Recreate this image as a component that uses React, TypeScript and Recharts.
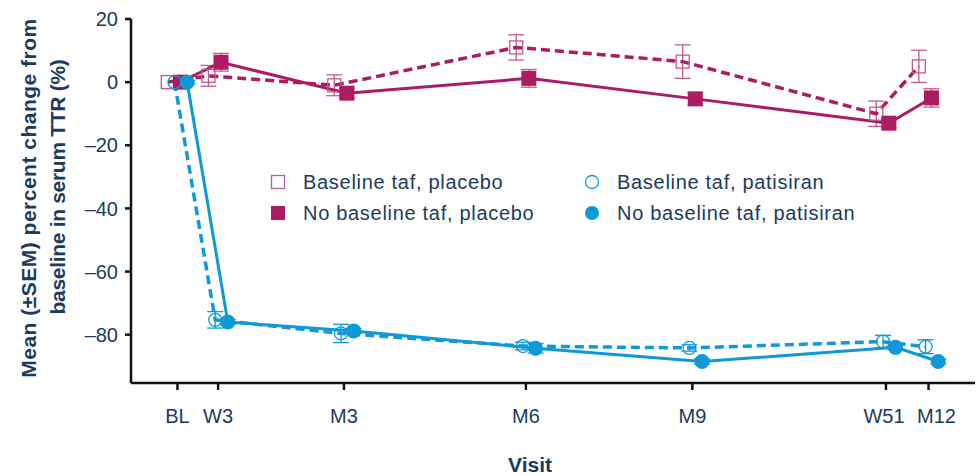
import { LineChart, Line, XAxis, YAxis, ErrorBar } from 'recharts'

// visit labels and study day used to place them on the x axis
const visits = ['BL', 'W3', 'M3', 'M6', 'M9', 'W51', 'M12']
const visitDays = [0, 21, 86, 180, 266, 366, 388]
const yTicks = [20, 0, -20, -40, -60, -80]

const tafPlacebo = [0, 2, -1, 11, 6.5, -10, 5]
const tafPlaceboSem = [0, 3.3, 3.3, 4, 5.3, 4, 5.1]
const noTafPlacebo = [0, 6.3, -3.5, 1.2, -5.3, -13, -5]
const noTafPlaceboSem = [0, 2.8, 1.5, 2.8, 2, 1.5, 2.9]
const tafPatisiran = [0, -75.3, -79.6, -83.6, -84.2, -82.2, -83.8]
const tafPatisiranSem = [0, 2.6, 2.9, 1.2, 1, 2, 2.2]
const noTafPatisiran = [0, -76, -78.8, -84.3, -88.5, -84, -88.5]
const noTafPatisiranSem = [0.5, 0.8, 0.8, 1.5, 0.8, 0.8, 0.8]

const MAGENTA = '#AC1C63'
const MAGENTA_LIGHT = '#C45A8E'
const BLUE = '#0E9AD8'
const NAVY = '#1A3B5E'
const FONT = '"Liberation Sans", Arial, sans-serif'

// small horizontal dodge (days) so the four groups don't sit on top of each other
const build = (vals: number[], sem: number[], dodge: number) =>
  visitDays.map((d, i) => ({ x: d + dodge, y: vals[i], e: sem[i] }))

const openSquare = (props: any) => {
  const { cx, cy, index } = props
  return <rect key={`os-${index}`} x={cx - 6.5} y={cy - 6.5} width={13} height={13} fill="none" stroke={MAGENTA_LIGHT} strokeWidth={1.3} />
}
const filledSquare = (props: any) => {
  const { cx, cy, index } = props
  return <rect key={`fs-${index}`} x={cx - 7.5} y={cy - 7.5} width={15} height={15} fill={MAGENTA} />
}
const openCircle = (props: any) => {
  const { cx, cy, index } = props
  return <circle key={`oc-${index}`} cx={cx} cy={cy} r={6.5} fill="none" stroke={BLUE} strokeWidth={1.3} />
}
const filledCircle = (props: any) => {
  const { cx, cy, index } = props
  return <circle key={`fc-${index}`} cx={cx} cy={cy} r={7.5} fill={BLUE} />
}

// the last two visit labels sit close, M12 is nudged right a little like the original
const VisitTick = (props: any) => {
  const { x, y, payload } = props
  const label = visits[visitDays.indexOf(payload.value)] ?? ''
  const nudge = label === 'M12' ? 8 : label === 'W51' ? -2 : 0
  return (
    <text x={x + nudge} y={y} dy="0.71em" textAnchor="middle" fontSize={20} fill={NAVY} fontFamily={FONT}>
      {label}
    </text>
  )
}

const legendItems = [
  { label: 'Baseline taf, placebo', left: 270, top: 182, icon: 'os' },
  { label: 'No baseline taf, placebo', left: 270, top: 213, icon: 'fs' },
  { label: 'Baseline taf, patisiran', left: 584, top: 182, icon: 'oc' },
  { label: 'No baseline taf, patisiran', left: 584, top: 213, icon: 'fc' },
]

function LegendIcon({ kind }: { kind: string }) {
  return (
    <svg width={16} height={16} style={{ marginRight: 17 }}>
      {kind === 'os' && <rect x={1.5} y={1.5} width={13} height={13} fill="none" stroke={MAGENTA_LIGHT} strokeWidth={1.3} />}
      {kind === 'fs' && <rect x={1} y={1} width={14} height={14} fill={MAGENTA} />}
      {kind === 'oc' && <circle cx={8} cy={8} r={6.5} fill="none" stroke={BLUE} strokeWidth={1.3} />}
      {kind === 'fc' && <circle cx={8} cy={8} r={7} fill={BLUE} />}
    </svg>
  )
}

export default function App() {
  const tickStyle = { fontSize: 20, fill: NAVY, fontFamily: FONT }

  return (
    <div style={{ position: 'absolute', left: 0, top: 0, width: 980, height: 475, background: '#fff', fontFamily: FONT }}>
      <LineChart width={980} height={475} margin={{ top: 19, right: 5, bottom: 0, left: 0 }}>
        <XAxis
          type="number"
          dataKey="x"
          domain={[-24, 412]}
          ticks={visitDays}
          interval={0}
          height={92}
          tick={<VisitTick />}
          tickSize={7}
          tickMargin={19}
          axisLine={{ stroke: '#111', strokeWidth: 2.5 }}
          tickLine={{ stroke: '#111', strokeWidth: 2.5 }}
        />
        <YAxis
          type="number"
          domain={[-95.3, 20]}
          ticks={yTicks}
          interval={0}
          width={131}
          tick={tickStyle}
          tickSize={6}
          tickMargin={7}
          tickFormatter={(v: number) => (v < 0 ? `\u2013${Math.abs(v)}` : `${v}`)}
          axisLine={{ stroke: '#111', strokeWidth: 2.5 }}
          tickLine={{ stroke: '#111', strokeWidth: 2.5 }}
        />

        <Line
          data={build(tafPlacebo, tafPlaceboSem, -5)}
          dataKey="y"
          stroke={MAGENTA}
          strokeWidth={3.5}
          strokeDasharray="9 5"
          dot={openSquare}
          activeDot={false}
          isAnimationActive={false}
        >
          <ErrorBar dataKey="e" direction="y" width={8} stroke={MAGENTA_LIGHT} strokeWidth={1.3} />
        </Line>
        <Line
          data={build(noTafPlacebo, noTafPlaceboSem, 1.5)}
          dataKey="y"
          stroke={MAGENTA}
          strokeWidth={3}
          dot={filledSquare}
          activeDot={false}
          isAnimationActive={false}
        >
          <ErrorBar dataKey="e" direction="y" width={8} stroke={MAGENTA_LIGHT} strokeWidth={1.3} />
        </Line>
        <Line
          data={build(tafPatisiran, tafPatisiranSem, -1.5)}
          dataKey="y"
          stroke={BLUE}
          strokeWidth={3.5}
          strokeDasharray="9 5"
          dot={openCircle}
          activeDot={false}
          isAnimationActive={false}
        >
          <ErrorBar dataKey="e" direction="y" width={8} stroke={BLUE} strokeWidth={1.3} />
        </Line>
        <Line
          data={build(noTafPatisiran, noTafPatisiranSem, 5)}
          dataKey="y"
          stroke={BLUE}
          strokeWidth={3}
          dot={filledCircle}
          activeDot={false}
          isAnimationActive={false}
        >
          <ErrorBar dataKey="e" direction="y" width={8} stroke={BLUE} strokeWidth={1.3} />
        </Line>
      </LineChart>

      {legendItems.map((it) => (
        <div
          key={it.label}
          style={{ position: 'absolute', left: it.left, top: it.top - 12, height: 24, display: 'flex', alignItems: 'center', fontSize: 20, letterSpacing: 0.7, color: NAVY, whiteSpace: 'nowrap' }}
        >
          <LegendIcon kind={it.icon} />
          <span>{it.label}</span>
        </div>
      ))}

      <svg width={980} height={475} style={{ position: 'absolute', left: 0, top: 0, pointerEvents: 'none' }}>
        <text transform="translate(28,198) rotate(-90)" textAnchor="middle" dominantBaseline="central" fontSize={21} letterSpacing={0.5} fontWeight="bold" fill={NAVY} fontFamily={FONT}>
          Mean (±SEM) percent change from
        </text>
        <text transform="translate(57,187) rotate(-90)" textAnchor="middle" dominantBaseline="central" fontSize={21} letterSpacing={-0.3} fontWeight="bold" fill={NAVY} fontFamily={FONT}>
          baseline in serum TTR (%)
        </text>
        <text x={530} y={472} textAnchor="middle" fontSize={21} fontWeight="bold" fill={NAVY} fontFamily={FONT}>
          Visit
        </text>
      </svg>
    </div>
  )
}
